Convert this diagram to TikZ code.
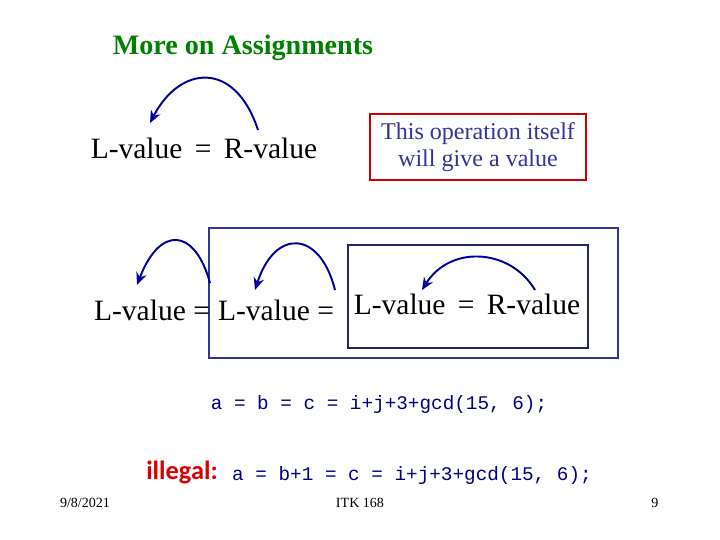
\documentclass[tikz,border=0pt]{standalone}
\usepackage{fontspec}
\setmainfont{Liberation Serif}
\setmonofont{Liberation Mono}
\newfontfamily\labelfont{Carlito}
\usetikzlibrary{positioning, arrows.meta}
\definecolor{titlecol}{HTML}{008000}
\definecolor{arccol}{HTML}{000099}
\definecolor{codecol}{HTML}{000080}
\definecolor{boxcol}{HTML}{333399}

\tikzset{
  bigtext/.style={font=\fontsize{16.8}{19}\selectfont, inner sep=0pt},
  codetext/.style={font=\ttfamily\fontsize{11}{13}\selectfont, text=codecol, inner sep=0pt},
  smalltext/.style={font=\fontsize{8}{9}\selectfont, inner sep=0pt},
  arcline/.style={draw=arccol, line width=1.1pt, -{Stealth[length=7pt,width=6pt]}}
}

\begin{document}
\begin{tikzpicture}[x=0.02cm, y=-0.02cm]
\useasboundingbox (0,0) rectangle (720,540);

% title
\node[font=\bfseries\fontsize{16}{18}\selectfont, text=titlecol] (title) at (243,48) {More on Assignments};

% first statement
\node[bigtext] (stmt) at (204,148) {L-value\, =\, R-value};
\coordinate (a1s) at (258,130);
\coordinate (a1e) at (150,123);
\draw[arcline] (a1s) .. controls (235,60) and (180,65) .. (a1e);

\node[draw=red!80!black, line width=1pt, minimum width=216*0.02cm, minimum height=66*0.02cm,
  align=center, font=\fontsize{13.7}{15}\selectfont, text=boxcol] (note) at (478,147)
  {This operation itself\\will give a value};

% chained statement
\node[draw=boxcol, line width=1.1pt, minimum width=409*0.02cm, minimum height=130*0.02cm] (outer) at (413.5,293) {};
\node[draw=boxcol!70!black, line width=0.8pt, minimum width=240*0.02cm, minimum height=103*0.02cm] (inner) at (468,296.5) {};

\node[bigtext] (lv1) at (152,310) {L-value =};
\node[bigtext] (lv2) at (276,310) {L-value =};
\node[bigtext] (lv3) at (467,304) {L-value\, =\, R-value};

\coordinate (b1s) at (210,283); \coordinate (b1e) at (137,285);
\coordinate (b2s) at (335,290); \coordinate (b2e) at (255,290);
\coordinate (b3s) at (535,290); \coordinate (b3e) at (422,290);
\draw[arcline] (b1s) .. controls (195,228) and (160,225) .. (b1e);
\draw[arcline] (b2s) .. controls (320,230) and (275,228) .. (b2e);
\draw[arcline] (b3s) .. controls (510,248) and (450,245) .. (b3e);

% code lines
\node[codetext] (code1) at (379,405) {a = b = c = i+j+3+gcd(15, 6);};
\node[font=\labelfont\bfseries\fontsize{15}{17}\selectfont, text=red!85!black, inner sep=0pt] (illegal) at (182,472) {illegal:};
\node[codetext] (code2) at (412,476) {a = b+1 = c = i+j+3+gcd(15, 6);};

% footer
\node[smalltext] (date) at (85,503) {9/8/2021};
\node[smalltext] (course) at (360,503) {ITK 168};
\node[smalltext] (page) at (655,503) {9};
\end{tikzpicture}
\end{document}
